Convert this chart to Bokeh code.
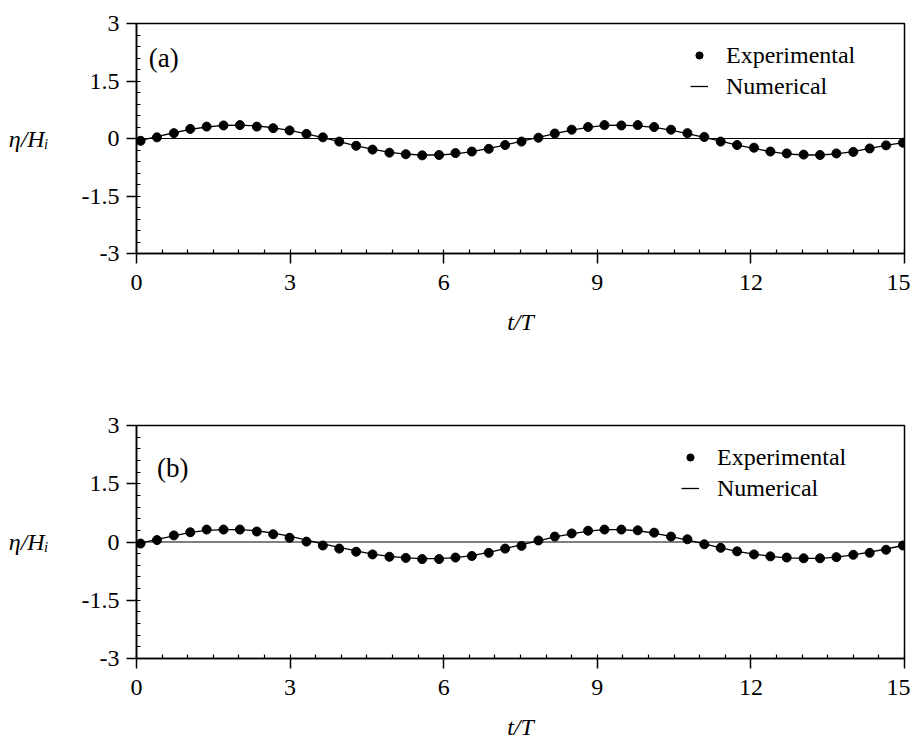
from bokeh.plotting import figure
from bokeh.models import FixedTicker, Span, Label, Legend, LegendItem, Range1d
from bokeh.layouts import column
from bokeh.embed import file_html
from bokeh.resources import INLINE

# ---- data ----
t_exp = [0.08, 0.40, 0.73, 1.05, 1.37, 1.70, 2.02, 2.35, 2.67, 2.99,
         3.32, 3.64, 3.96, 4.29, 4.61, 4.94, 5.26, 5.58, 5.91, 6.23,
         6.55, 6.88, 7.20, 7.52, 7.85, 8.17, 8.50, 8.82, 9.14, 9.47,
         9.79, 10.11, 10.44, 10.76, 11.09, 11.41, 11.73, 12.06, 12.38, 12.70,
         13.03, 13.35, 13.67, 14.00, 14.32, 14.64, 14.97]

eta_a_exp = [-0.06, 0.03, 0.14, 0.25, 0.31, 0.34, 0.35, 0.31, 0.27, 0.21,
             0.12, 0.03, -0.08, -0.19, -0.29, -0.37, -0.41, -0.44, -0.43, -0.38,
             -0.34, -0.27, -0.17, -0.08, 0.02, 0.13, 0.23, 0.30, 0.35, 0.34,
             0.35, 0.30, 0.23, 0.14, 0.04, -0.08, -0.17, -0.24, -0.34, -0.39,
             -0.42, -0.43, -0.39, -0.35, -0.26, -0.18, -0.11]

eta_b_exp = [-0.04, 0.05, 0.17, 0.25, 0.32, 0.32, 0.32, 0.27, 0.20, 0.11,
             0.01, -0.09, -0.17, -0.25, -0.32, -0.38, -0.41, -0.44, -0.44, -0.40,
             -0.36, -0.28, -0.17, -0.10, 0.04, 0.14, 0.22, 0.29, 0.32, 0.32,
             0.30, 0.24, 0.14, 0.07, -0.06, -0.15, -0.24, -0.32, -0.37, -0.40,
             -0.42, -0.42, -0.39, -0.33, -0.28, -0.20, -0.09]

t_num = [0.0, 0.08, 0.40, 0.73, 1.05, 1.37, 1.70, 2.02, 2.35, 2.67, 2.99,
         3.32, 3.64, 3.96, 4.29, 4.61, 4.94, 5.26, 5.58, 5.91, 6.23,
         6.55, 6.88, 7.20, 7.52, 7.85, 8.17, 8.50, 8.82, 9.14, 9.47,
         9.79, 10.11, 10.44, 10.76, 11.09, 11.41, 11.73, 12.06, 12.38, 12.70,
         13.03, 13.35, 13.67, 14.00, 14.32, 14.64, 14.97, 15.0]

eta_a_num = [-0.08, -0.05, 0.05, 0.15, 0.24, 0.30, 0.34, 0.35, 0.33, 0.28, 0.21,
             0.12, 0.02, -0.08, -0.19, -0.28, -0.36, -0.41, -0.43, -0.43, -0.40,
             -0.34, -0.26, -0.17, -0.07, 0.03, 0.13, 0.22, 0.29, 0.34, 0.35,
             0.33, 0.29, 0.22, 0.13, 0.03, -0.07, -0.17, -0.26, -0.34, -0.40,
             -0.43, -0.43, -0.40, -0.34, -0.26, -0.18, -0.11, -0.10]

eta_b_num = [-0.06, -0.03, 0.07, 0.16, 0.25, 0.30, 0.32, 0.32, 0.29, 0.23, 0.15,
             0.05, -0.05, -0.14, -0.23, -0.31, -0.37, -0.41, -0.43, -0.43, -0.40,
             -0.35, -0.27, -0.17, -0.07, 0.03, 0.13, 0.21, 0.28, 0.32, 0.32,
             0.29, 0.23, 0.14, 0.05, -0.05, -0.15, -0.24, -0.31, -0.37, -0.41,
             -0.42, -0.42, -0.39, -0.33, -0.26, -0.18, -0.09, -0.08]

x_ticks = [0, 3, 6, 9, 12, 15]
x_tick_labels = ["0", "3", "6", "9", "12", "15"]
y_ticks = [-3, -1.5, 0, 1.5, 3]
y_tick_labels = ["-3", "-1.5", "0", "1.5", "3"]
x_minor = [0.5 * i for i in range(31)]
y_minor = [round(-3 + 0.3 * i, 2) for i in range(21)]

FONT = "Liberation Serif"


def make_panel(eta_exp, eta_num, tag, tag_xy, frame_h, top, bottom, leg_loc, xl_standoff):
    p = figure(frame_width=768, frame_height=frame_h,
               x_range=Range1d(0, 15), y_range=Range1d(-3, 3),
               output_backend="svg", toolbar_location=None,
               min_border_left=136, min_border_right=6,
               min_border_top=top, min_border_bottom=bottom,
               background_fill_color="white", border_fill_color="white")
    p.xgrid.visible = False
    p.ygrid.visible = False
    p.outline_line_color = "black"
    p.outline_line_width = 1.5
    p.outline_line_alpha = 1.0

    for ax in (p.xaxis, p.yaxis):
        ax.axis_line_color = "black"
        ax.axis_line_width = 1.6
        ax.major_tick_line_color = "black"
        ax.major_tick_line_width = 1.5
        ax.minor_tick_line_color = "black"
        ax.minor_tick_line_width = 1.2
        ax.major_tick_out = 10
        ax.major_tick_in = 0
        ax.minor_tick_in = 4
        ax.minor_tick_out = 0
        ax.major_label_text_font = FONT
        ax.major_label_text_font_size = "24px"
        ax.major_label_text_color = "black"

    p.xaxis.ticker = FixedTicker(ticks=x_ticks, minor_ticks=x_minor)
    p.xaxis.major_label_overrides = dict(zip(x_ticks, x_tick_labels))
    p.xaxis.major_label_standoff = 11
    p.xaxis.axis_label = "t/T"
    p.xaxis.axis_label_text_font = FONT
    p.xaxis.axis_label_text_font_style = "italic"
    p.xaxis.axis_label_text_font_size = "24px"
    p.xaxis.axis_label_text_color = "black"
    p.xaxis.axis_label_standoff = xl_standoff

    p.yaxis.ticker = FixedTicker(ticks=y_ticks, minor_ticks=y_minor)
    p.yaxis.major_label_overrides = dict(zip(y_ticks, y_tick_labels))
    p.yaxis.major_label_standoff = 7
    p.yaxis.axis_label = "\u03b7/H\u1d62"
    p.yaxis.axis_label_orientation = "horizontal"
    p.yaxis.axis_label_text_font = FONT
    p.yaxis.axis_label_text_font_style = "italic"
    p.yaxis.axis_label_text_font_size = "24px"
    p.yaxis.axis_label_text_color = "black"
    p.yaxis.axis_label_standoff = 30

    p.add_layout(Span(location=0, dimension="width", line_color="black", line_width=1.2))

    ln = p.line(t_num, eta_num, line_color="black", line_width=1.3)
    sc = p.scatter(t_exp, eta_exp, size=9, marker="circle",
                   fill_color="black", line_color="black")

    leg = Legend(items=[LegendItem(label="Experimental", renderers=[sc]),
                        LegendItem(label="Numerical", renderers=[ln])],
                 location=leg_loc, padding=0, margin=0, spacing=3,
                 glyph_width=18, glyph_height=28, label_height=28,
                 label_standoff=18, border_line_alpha=0,
                 background_fill_alpha=0,
                 label_text_font=FONT, label_text_font_size="24px",
                 label_text_color="black")
    p.add_layout(leg)

    p.add_layout(Label(x=tag_xy[0], y=tag_xy[1], text=tag, text_font=FONT,
                       text_font_size="27px", text_baseline="middle",
                       text_color="black"))
    return p


p1 = make_panel(eta_a_exp, eta_a_num, "(a)", (0.24, 2.09), 230, 23, 157, (554, 153), 16)
p2 = make_panel(eta_b_exp, eta_b_num, "(b)", (0.40, 1.91), 233, 15, 83, (545, 156), 16)

layout = column(p1, p2, spacing=0)
open("out.html", "w").write(file_html(layout, INLINE))
